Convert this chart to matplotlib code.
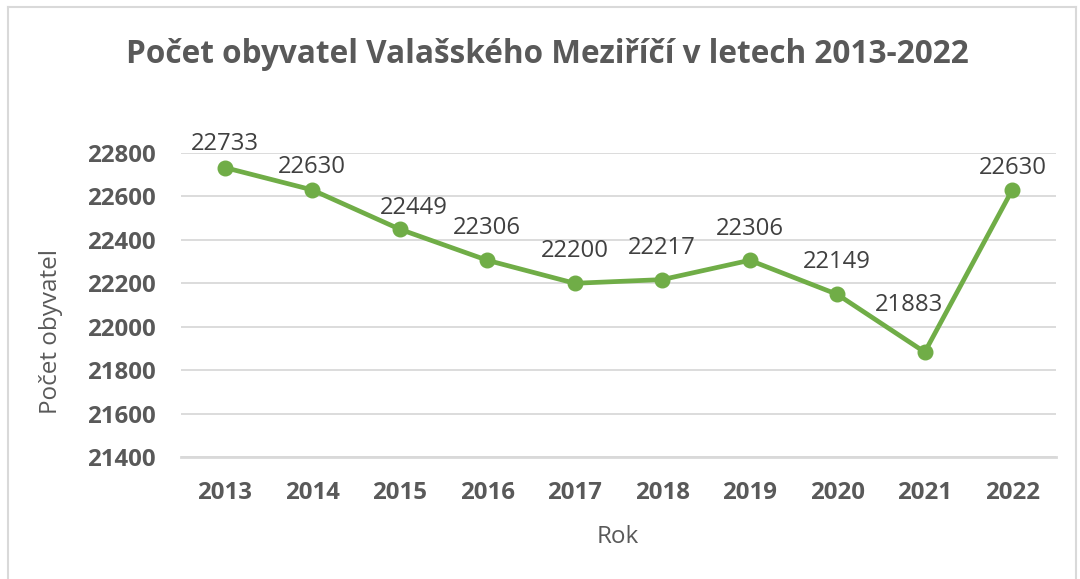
import matplotlib
matplotlib.use("Agg")
import matplotlib.pyplot as plt
from matplotlib.lines import Line2D

years = ["2013", "2014", "2015", "2016", "2017", "2018", "2019", "2020", "2021", "2022"]
population = [22733, 22630, 22449, 22306, 22200, 22217, 22306, 22149, 21883, 22630]
y_ticks = [21400, 21600, 21800, 22000, 22200, 22400, 22600, 22800]

# label placement (pixel offsets of label centre from the point)
label_dx = [0, 0, 14, 0, 0, 0, 0, 0, -16, 1]
label_dy = [26.5, 25.5, 23.5, 35, 34.5, 34, 34, 35, 49.5, 24]

plt.rcParams['font.family'] = ['Open Sans', 'DejaVu Sans']
W, H = 1080, 579
fig = plt.figure(figsize=(W / 100, H / 100), dpi=100)
ax = fig.add_axes([181 / W, 1 - 457 / H, (1056 - 181) / W, (457 - 153) / H])

green = "#70AD47"
gray = "#595959"
px = 0.72  # points per pixel at dpi 100
x = list(range(len(years)))
ax.plot(x, population, color=green, lw=3.4, marker="o", ms=10.5, zorder=3,
        solid_capstyle="round", solid_joinstyle="round")
fs_lab = 17.2
cap = 0.714 * fs_lab / px
for xi, v, dx, dy in zip(x, population, label_dx, label_dy):
    ax.annotate(str(v), (xi, v), xytext=(dx * px, (dy - cap / 2) * px),
                textcoords="offset points", ha="center", va="baseline",
                fontsize=fs_lab, color="#404040")

ax.set_xlim(-0.5, len(years) - 0.5)
ax.set_ylim(21400, 22800)
ax.set_yticks(y_ticks)
ax.set_xticks(x)
ax.set_xticklabels(years)
ax.grid(axis="y", color="#D9D9D9", lw=1.3)
ax.set_axisbelow(True)
for s in ["top", "right", "left"]:
    ax.spines[s].set_visible(False)
ax.spines["bottom"].set_color("#D9D9D9")
ax.spines["bottom"].set_linewidth(2)
ax.tick_params(length=0)
ax.tick_params(axis="y", pad=18.5)
ax.tick_params(axis="x", pad=17.5)
for lab in ax.get_xticklabels() + ax.get_yticklabels():
    lab.set_fontweight("bold")
    lab.set_fontsize(17.3)
    lab.set_color(gray)

fig.text(618 / W, 1 - 543 / H, "Rok", ha="center", va="baseline", fontsize=17.5, color=gray)
fig.text(51 / W, 1 - 331 / H, "Počet obyvatel", ha="center", va="center",
         rotation=90, fontsize=17.5, color=gray)
fig.text(547 / W, 1 - 63 / H, "Počet obyvatel Valašského Meziříčí v letech 2013-2022",
         ha="center", va="baseline", fontsize=22.7, fontweight="bold", color=gray)

# chart border
bc = "#D9D9D9"
fig.add_artist(Line2D([8 / W, 8 / W], [0, 1 - 7 / H], transform=fig.transFigure, color=bc, lw=1.5))
fig.add_artist(Line2D([8 / W, 1076 / W], [1 - 7 / H, 1 - 7 / H], transform=fig.transFigure, color=bc, lw=1.5))
fig.add_artist(Line2D([1076 / W, 1076 / W], [0, 1 - 7 / H], transform=fig.transFigure, color=bc, lw=1.5))

fig.savefig("out.png", dpi=100)
